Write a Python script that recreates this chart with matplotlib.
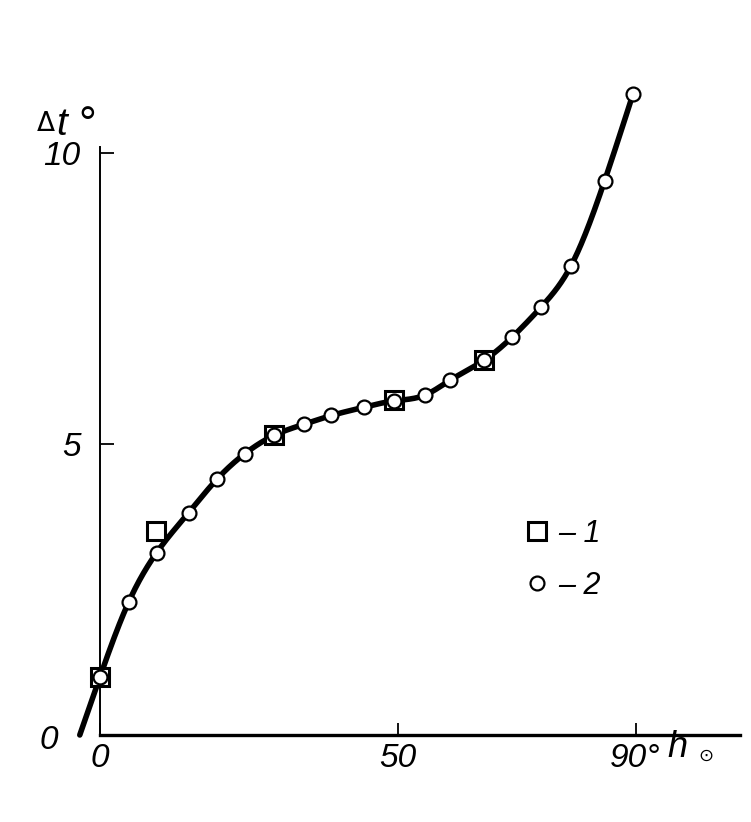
import numpy as np
import matplotlib.pyplot as plt
from matplotlib.lines import Line2D

# ========= DATA =========
# series 2 (circles): sun height h (deg) vs delta t (deg)
H_CIRCLES = [0.0, 4.8, 9.5, 14.9, 19.7, 24.3, 29.3, 34.3, 38.9, 44.3,
             49.4, 54.6, 58.9, 64.6, 69.3, 74.2, 79.1, 84.8, 89.6]
DT_CIRCLES = [1.0, 2.28, 3.13, 3.82, 4.40, 4.83, 5.15, 5.34, 5.49, 5.63,
              5.74, 5.84, 6.10, 6.44, 6.84, 7.36, 8.05, 9.52, 11.02]

# series 1 (squares)
H_SQUARES = [0.0, 9.4, 29.3, 49.4, 64.6]
DT_SQUARES = [1.0, 3.50, 5.15, 5.76, 6.45]

# where the drawn curve starts (below the origin)
CURVE_START = (-3.4, 0.0)

X_TICKS = [0, 50, 90]
X_TICK_LABELS = ["0", "50", "90°"]
Y_TICKS = [5, 10]
Y_TICK_LABELS = ["5", "10"]
LEGEND_LABELS = ["– 1", "– 2"]
# ========================

# ---- layout (pixel mapping of the reference) ----
W, H = 751, 822
PX0, PY0 = 100, 735     # origin in pixels
SX, SY = 5.95, 58.2     # pixels per unit

plt.rcParams["font.family"] = ["Liberation Sans", "DejaVu Sans"]
plt.rcParams["font.style"] = "italic"


def natural_spline(x, y, xs):
    x = np.asarray(x, float)
    y = np.asarray(y, float)
    n = len(x)
    h = np.diff(x)
    d = np.diff(y) / h
    A = np.zeros((n, n))
    r = np.zeros(n)
    A[0, 0] = A[-1, -1] = 1.0
    for i in range(1, n - 1):
        A[i, i - 1] = h[i - 1]
        A[i, i] = 2 * (h[i - 1] + h[i])
        A[i, i + 1] = h[i]
        r[i] = 6 * (d[i] - d[i - 1])
    M = np.linalg.solve(A, r)
    i = np.clip(np.searchsorted(x, xs) - 1, 0, n - 2)
    a = x[i + 1] - xs
    b = xs - x[i]
    hi = h[i]
    return (M[i] * a**3 / (6 * hi) + M[i + 1] * b**3 / (6 * hi)
            + (y[i] / hi - M[i] * hi / 6) * a + (y[i + 1] / hi - M[i + 1] * hi / 6) * b)


fig = plt.figure(figsize=(W / 100, H / 100), dpi=100)
ax = fig.add_axes([0, 0, 1, 1])
ax.set_xlim(-PX0 / SX, (W - PX0) / SX)
ax.set_ylim((PY0 - H) / SY, PY0 / SY)

# ---- curve ----
cx = [CURVE_START[0]] + H_CIRCLES
cy = [CURVE_START[1]] + DT_CIRCLES
xs = np.linspace(cx[0], cx[-1], 800)
ax.plot(xs, natural_spline(cx, cy, xs), color="black", lw=4.0,
        solid_capstyle="round", zorder=2)

# ---- markers ----
ax.plot(H_SQUARES, DT_SQUARES, ls="none", marker="s", ms=13, mfc="white",
        mec="black", mew=2.2, zorder=3)
ax.plot(H_CIRCLES, DT_CIRCLES, ls="none", marker="o", ms=10, mfc="white",
        mec="black", mew=1.6, zorder=4)

# ---- axes ----
for s in ["top", "right"]:
    ax.spines[s].set_visible(False)
ax.spines["left"].set_position(("data", 0))
ax.spines["left"].set_bounds(0, 10.1)
ax.spines["left"].set_linewidth(1.4)
ax.spines["bottom"].set_position(("data", 0))
ax.spines["bottom"].set_bounds(0, 107.5)
ax.spines["bottom"].set_linewidth(2.4)

ax.set_xticks(X_TICKS)
ax.set_xticklabels(X_TICK_LABELS)
ax.set_yticks(Y_TICKS)
ax.set_yticklabels(Y_TICK_LABELS)
ax.tick_params(axis="x", direction="in", length=9, width=1.3, pad=6, labelsize=24)
ax.tick_params(axis="y", direction="in", length=10, width=1.3, pad=14, labelsize=24)

# ---- extra labels ----
ax.text(-8.6, -0.09, "0", fontsize=24, ha="center", va="center")
ax.text(-7.6, 10.38, "Δ", fontsize=19, style="normal", ha="right", va="baseline",
        family=["DejaVu Sans"])
ax.text(-7.4, 10.31, "t", fontsize=28, ha="left", va="baseline")
ax.text(-2.2, 10.46, "°", fontsize=32, style="normal", ha="center", va="center")
ax.text(95.3, -0.38, "h", fontsize=26, ha="left", va="baseline")
ax.text(101.8, -0.36, "⊙", fontsize=13, style="normal", ha="center", va="center",
        family=["DejaVu Sans"])

# ---- legend ----
handles = [
    Line2D([], [], ls="none", marker="s", ms=13, mfc="white", mec="black", mew=2.2),
    Line2D([], [], ls="none", marker="o", ms=10, mfc="white", mec="black", mew=1.6),
]
ax.legend(handles, LEGEND_LABELS, frameon=False, fontsize=22, handlelength=1.0,
          handletextpad=0.2, labelspacing=0.73, loc="upper left",
          bbox_to_anchor=(494 / W, 1 - 491 / H))

plt.savefig("out.png", dpi=100)
